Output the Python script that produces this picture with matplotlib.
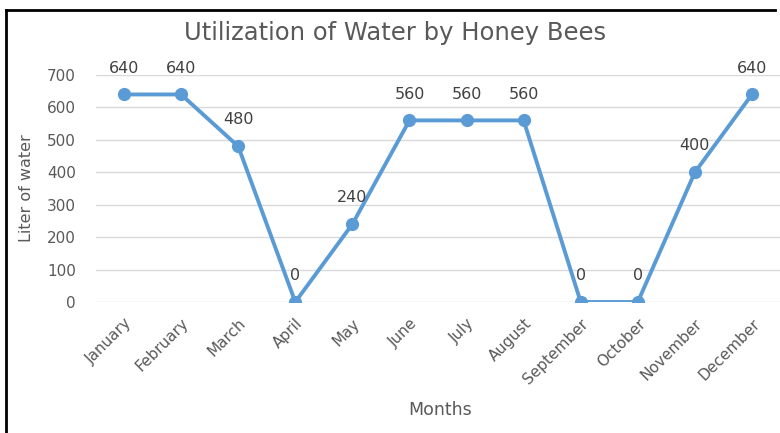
import matplotlib
matplotlib.use("Agg")
import matplotlib.pyplot as plt
from matplotlib.lines import Line2D

months = ["January", "February", "March", "April", "May", "June", "July",
          "August", "September", "October", "November", "December"]
liters = [640, 640, 480, 0, 240, 560, 560, 560, 0, 0, 400, 640]
yticks = [0, 100, 200, 300, 400, 500, 600, 700]

plt.rcParams['font.family'] = ['DejaVu Sans']
gray = "#595959"
blue = "#5B9BD5"

fig = plt.figure(figsize=(7.8, 4.33), dpi=100)
ax = fig.add_axes([95.5/780, 1-302/433, (780.5-95.5)/780, (302-75)/433])

x = list(range(len(months)))
ax.plot(x, liters, color=blue, lw=2.8, marker='o', ms=8.5, zorder=3,
        solid_capstyle='round', solid_joinstyle='round')
for xi, v in zip(x, liters):
    ax.annotate(str(v), (xi, v), xytext=(0, 19), textcoords='offset points',
                ha='center', va='center', fontsize=11.5, color="#404040")

ax.set_xlim(-0.5, len(months) - 0.5)
ax.set_ylim(0, 700)
ax.set_yticks(yticks)
ax.set_xticks(x)
ax.set_xticklabels(months, rotation=45, ha='right', rotation_mode='anchor',
                   fontsize=11, color=gray)
ax.tick_params(axis='y', labelsize=11, labelcolor=gray, length=0, pad=14)
ax.tick_params(axis='x', length=0, pad=10)
ax.grid(axis='y', color="#D9D9D9", lw=1)
ax.set_axisbelow(True)
for s in ax.spines.values():
    s.set_visible(False)

fig.text(395/780, 1-33/433, "Utilization of Water by Honey Bees",
         ha='center', va='center', fontsize=17.5, color=gray)
fig.text(27/780, 1-188/433, "Liter of water", rotation=90,
         ha='center', va='center', fontsize=11.5, color=gray)
fig.text(440/780, 1-410/433, "Months", ha='center', va='center',
         fontsize=12.5, color=gray)

# outer border (top and left visible)
fig.add_artist(Line2D([6/780, 6/780], [0, 1-9.5/433], transform=fig.transFigure,
                      color='black', lw=2))
fig.add_artist(Line2D([6/780, 775/780], [1-9.5/433, 1-9.5/433],
                      transform=fig.transFigure, color='black', lw=2))

fig.savefig("out.png", dpi=100)
